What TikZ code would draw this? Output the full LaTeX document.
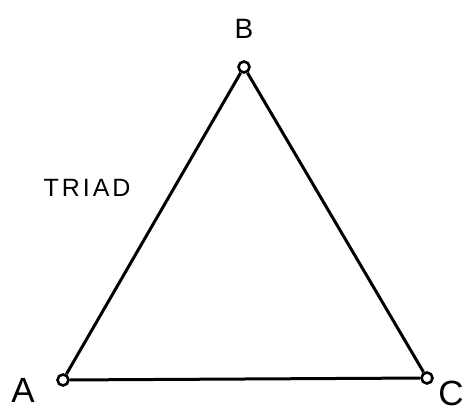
\documentclass[tikz,border=0pt]{standalone}
\usepackage{fontspec}
\setmainfont{Liberation Sans}
\begin{document}
\begin{tikzpicture}[x=1pt,y=-1pt,
  vtx/.style={circle,draw,line width=2.6pt,minimum size=11pt,inner sep=0pt},
  edge/.style={line width=3pt},
  lbl/.style={font=\fontsize{35}{40}\selectfont,inner sep=0pt},
  lblb/.style={font=\fontsize{28}{32}\selectfont,inner sep=0pt},
  tag/.style={font=\fontsize{25}{28}\selectfont\addfontfeature{LetterSpace=12},inner sep=0pt}]
\useasboundingbox (0,0) rectangle (468,411);
\node[vtx] (B) at (244,67) {};
\node[vtx] (A) at (63,380) {};
\node[vtx] (C) at (427,378) {};
\node[lblb] (lB) at (244,29) {B};
\node[lbl] (lA) at (23,390) {A};
\node[lbl] (lC) at (451,393) {C};
\node[tag] (t) at (87,188) {TRIAD};
\draw[edge] (A) -- (B);
\draw[edge] (B) -- (C);
\draw[edge] (A) -- (C);
\end{tikzpicture}
\end{document}
